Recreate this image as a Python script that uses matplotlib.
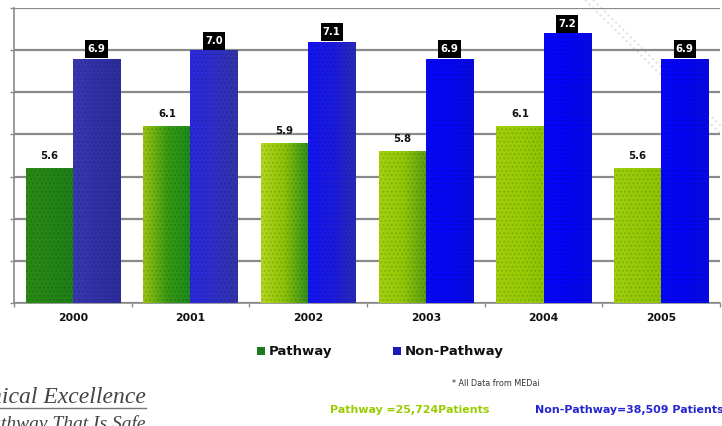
import numpy as np
import matplotlib
matplotlib.use("Agg")
import matplotlib.pyplot as plt
from matplotlib.colors import LinearSegmentedColormap
from matplotlib.patches import Rectangle
from matplotlib.lines import Line2D
from matplotlib.path import Path

# ---- data -------------------------------------------------------------
years = ["2000", "2001", "2002", "2003", "2004", "2005"]
pathway = [5.6, 6.1, 5.9, 5.8, 6.1, 5.6]
non_pathway = [6.9, 7.0, 7.1, 6.9, 7.2, 6.9]
series_names = ["Pathway", "Non-Pathway"]
source_note = "* All Data from MEDai"
patient_counts = ["Pathway =25,724Patients", "Non-Pathway=38,509 Patients"]
y_min, y_max, y_step = 4.0, 7.5, 0.5

# ---- styling ----------------------------------------------------------
# left / middle / right shade of every bar
path_shades = [
    ("#2a8a12", "#248616", "#1e8018"),
    ("#9cc410", "#3a9a14", "#1a8a1c"),
    ("#b4d81c", "#8cc208", "#2c901a"),
    ("#a4d20c", "#94c808", "#5a9e12"),
    ("#a2d00a", "#98cc06", "#8cc404"),
    ("#a0d00a", "#96ca06", "#8ec404"),
]
nonpath_shades = [
    ("#3838b0", "#3232a8", "#2c2c9c"),
    ("#2a2ae0", "#2e2ec8", "#3434a8"),
    ("#1414f4", "#1a1ae0", "#2a2ab8"),
    ("#0808fa", "#0606f4", "#0a0ae0"),
    ("#0606fc", "#0404f6", "#0808e6"),
    ("#0606fa", "#0404f4", "#0a0ae4"),
]
legend_colors = ["#1e7a1e", "#1a1ab8"]
grid_color = "#8a8a8a"
bar_w = 0.4

W, H = 722, 426
fig = plt.figure(figsize=(W / 100, H / 100), dpi=100)
fig.patch.set_facecolor("white")


def fx(px):
    return px / W


def fy(py):
    return 1 - py / H


def label_box(x0, y0, width, height, mutation_size):
    """Square box with more vertical than horizontal padding."""
    padx = 0.22 * mutation_size
    pady = 0.40 * mutation_size
    xa, ya = x0 - padx, y0 - pady
    xb, yb = x0 + width + padx, y0 + height + pady
    return Path([(xa, ya), (xb, ya), (xb, yb), (xa, yb), (xa, ya)],
                closed=True)


# faint diagonal watermark stripes in the background
for off in (0, 8):
    fig.add_artist(Line2D([fx(585 + off), fx(722 + off)], [fy(0), fy(135)],
                          transform=fig.transFigure, color="#e2e2e2",
                          lw=1.5, ls=(0, (1, 1.5)), zorder=0))

ax = fig.add_axes([fx(14), fy(303), fx(720) - fx(14), fy(8) - fy(303)])
ax.patch.set_alpha(0)

x = np.arange(len(years))
b1 = ax.bar(x - bar_w / 2, pathway, bar_w, bottom=0, color=legend_colors[0],
            linewidth=0, zorder=2)
b2 = ax.bar(x + bar_w / 2, non_pathway, bar_w, bottom=0, color=legend_colors[1],
            linewidth=0, zorder=2)


def shade(bars, shades):
    for rect, cols in zip(bars, shades):
        x0 = rect.get_x()
        x1 = x0 + rect.get_width()
        top = rect.get_height()
        cmap = LinearSegmentedColormap.from_list("s", list(cols))
        grad = np.linspace(0, 1, 64).reshape(1, -1)
        im = ax.imshow(grad, cmap=cmap, aspect="auto",
                       extent=(x0, x1, y_min, top), zorder=3,
                       interpolation="bilinear")
        im.set_clip_path(rect)
        # fine dotted texture
        ax.add_patch(Rectangle((x0, y_min), x1 - x0, top - y_min,
                               facecolor="none", edgecolor=(0, 0, 0, 0.12),
                               hatch="....", linewidth=0, zorder=4))


shade(b1, path_shades)
shade(b2, nonpath_shades)

ax.set_xlim(-0.5, len(years) - 0.5)
ax.set_ylim(y_min, y_max)
ax.set_yticks(np.arange(y_min, y_max + 0.01, y_step))
ax.set_yticklabels([])
ax.yaxis.grid(True, color=grid_color, lw=1.6, zorder=1)
ax.set_axisbelow(True)
ax.tick_params(axis="y", length=3, color=grid_color, width=1)

ax.set_xticks(x)
ax.set_xticklabels(years, fontsize=7.8, fontweight="bold", color="#111111")
ax.tick_params(axis="x", length=0, pad=7)
ax.set_xticks(np.arange(-0.5, len(years) + 0.5, 1.0), minor=True)
ax.tick_params(axis="x", which="minor", length=3, color=grid_color, width=1)

for s in ("top", "right"):
    ax.spines[s].set_visible(False)
for s in ("left", "bottom"):
    ax.spines[s].set_color(grid_color)
    ax.spines[s].set_linewidth(1.2)

# value labels
for xi, v in zip(x, pathway):
    ax.annotate(f"{v:.1f}", (xi - bar_w / 2, v), xytext=(0, 8.5),
                textcoords="offset points", ha="center", va="center",
                fontsize=7.3, fontweight="bold", color="#111111", zorder=6)
for xi, v in zip(x, non_pathway):
    ax.annotate(f"{v:.1f}", (xi + bar_w / 2, v), xytext=(0, 3.2),
                textcoords="offset points", ha="center", va="bottom",
                fontsize=7.3, fontweight="bold", color="white", zorder=6,
                bbox=dict(boxstyle=label_box, fc="black", ec="none"))

# legend
leg_items = [(257, series_names[0], legend_colors[0]),
             (393, series_names[1], legend_colors[1])]
for px, name, col in leg_items:
    fig.add_artist(Rectangle((fx(px), fy(355)), fx(8), 8 / H,
                             transform=fig.transFigure, facecolor=col,
                             edgecolor="none"))
    fig.text(fx(px + 12), fy(351), name, fontsize=9.5, fontweight="bold",
             color="#111111", va="center", ha="left")

# notes
fig.text(fx(452), fy(384), source_note, fontsize=5.8, color="#333333",
         va="center", ha="left")
fig.text(fx(330), fy(410), patient_counts[0], fontsize=7.9, fontweight="bold",
         color="#99cc00", va="center", ha="left")
fig.text(fx(535), fy(410), patient_counts[1], fontsize=7.9, fontweight="bold",
         color="#2424d0", va="center", ha="left")

# logo text, bottom left
fig.text(fx(146), fy(403), "Clinical Excellence", fontsize=17,
         fontstyle="italic", family="Liberation Serif", color="#444444",
         ha="right", va="baseline")
fig.add_artist(Line2D([0, fx(146)], [fy(408), fy(408)],
                      transform=fig.transFigure, color="#777777", lw=1))
fig.text(fx(146), fy(429), "A Pathway That Is Safe", fontsize=14,
         fontstyle="italic", family="Liberation Serif", color="#444444",
         ha="right", va="baseline")

fig.savefig("out.png", dpi=100, facecolor="white")
